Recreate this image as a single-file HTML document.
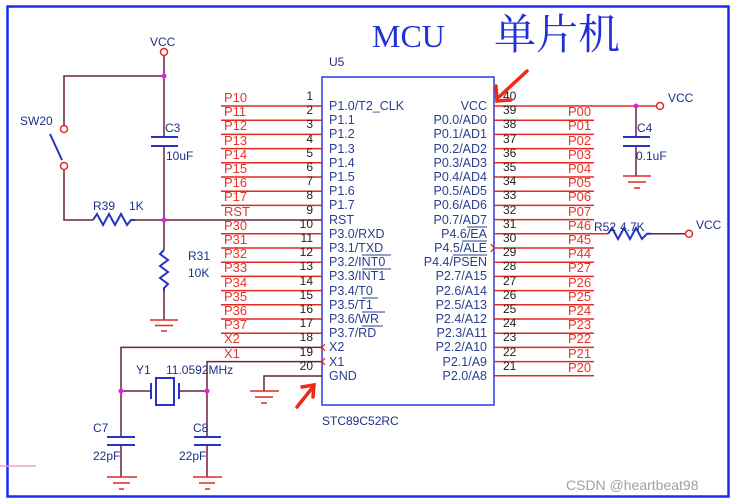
<!DOCTYPE html>
<html><head><meta charset="utf-8"><style>
html,body{margin:0;padding:0;background:#fff;width:733px;height:503px;overflow:hidden}
svg{display:block}
text{font-family:"Liberation Sans",sans-serif}
.p{font-size:12.5px;fill:#2a3f8f}
.n{font-size:12px;fill:#222}
.r{font-size:13px;fill:#e8342a}
.c{font-size:12px;fill:#1e2f8a}
</style></head><body>
<svg width="733" height="503" viewBox="0 0 733 503" xmlns="http://www.w3.org/2000/svg">
<rect x="7.5" y="6.5" width="721" height="490" fill="none" stroke="#1a2cf0" stroke-width="2.5"/>
<line x1="0" y1="466" x2="36" y2="466" stroke="#f2a0b8" stroke-width="1.5"/>
<text x="372" y="47" style="font-family:'Liberation Serif',serif;font-size:32px;fill:#2030d8">MCU</text>
<text x="494" y="49" style="font-family:'Liberation Serif','Noto Serif CJK SC',serif;font-size:42px;fill:#2030d8">单片机</text>

<rect x="322" y="77" width="172" height="328" fill="none" stroke="#2a3ce0" stroke-width="1.5"/>
<text x="329" y="66" class="c">U5</text>
<text x="322" y="425" class="c">STC89C52RC</text>

<g stroke="#e02a22" stroke-width="1.5">
<line x1="221" y1="106" x2="322" y2="106"/><line x1="221" y1="120.2" x2="322" y2="120.2"/>
<line x1="221" y1="134.4" x2="322" y2="134.4"/><line x1="221" y1="148.6" x2="322" y2="148.6"/>
<line x1="221" y1="162.8" x2="322" y2="162.8"/><line x1="221" y1="177" x2="322" y2="177"/>
<line x1="221" y1="191.2" x2="322" y2="191.2"/><line x1="221" y1="205.4" x2="322" y2="205.4"/>
<line x1="221" y1="233.8" x2="322" y2="233.8"/><line x1="221" y1="248" x2="322" y2="248"/>
<line x1="221" y1="262.2" x2="322" y2="262.2"/><line x1="221" y1="276.4" x2="322" y2="276.4"/>
<line x1="221" y1="290.6" x2="322" y2="290.6"/><line x1="221" y1="304.8" x2="322" y2="304.8"/>
<line x1="221" y1="319" x2="322" y2="319"/><line x1="221" y1="333.2" x2="322" y2="333.2"/>
<line x1="494" y1="120.2" x2="594" y2="120.2"/><line x1="494" y1="134.4" x2="594" y2="134.4"/>
<line x1="494" y1="148.6" x2="594" y2="148.6"/><line x1="494" y1="162.8" x2="594" y2="162.8"/>
<line x1="494" y1="177" x2="594" y2="177"/><line x1="494" y1="191.2" x2="594" y2="191.2"/>
<line x1="494" y1="205.4" x2="594" y2="205.4"/><line x1="494" y1="219.6" x2="594" y2="219.6"/>
<line x1="494" y1="248" x2="594" y2="248"/><line x1="494" y1="262.2" x2="594" y2="262.2"/>
<line x1="494" y1="276.4" x2="594" y2="276.4"/><line x1="494" y1="290.6" x2="594" y2="290.6"/>
<line x1="494" y1="304.8" x2="594" y2="304.8"/><line x1="494" y1="319" x2="594" y2="319"/>
<line x1="494" y1="333.2" x2="594" y2="333.2"/><line x1="494" y1="347.4" x2="594" y2="347.4"/>
<line x1="494" y1="361.6" x2="594" y2="361.6"/><line x1="494" y1="375.8" x2="594" y2="375.8"/>
<line x1="494" y1="106" x2="660" y2="106"/>
<line x1="494" y1="233.8" x2="608" y2="233.8"/>
</g>

<g stroke="#6e2140" stroke-width="1.5" fill="none">
<line x1="164" y1="55" x2="164" y2="137"/>
<line x1="164" y1="146" x2="164" y2="250"/>
<polyline points="164,76 64,76 64,126"/>
<polyline points="64,169 64,220 93,220"/>
<line x1="135" y1="220" x2="322" y2="220"/>
<line x1="164" y1="291" x2="164" y2="320"/>
<polyline points="322,347.4 121,347.4 121,437"/>
<line x1="121" y1="445" x2="121" y2="477"/>
<polyline points="322,361.6 207,361.6 207,437"/>
<line x1="207" y1="445" x2="207" y2="477"/>
<line x1="121" y1="391" x2="150" y2="391"/>
<line x1="180" y1="391" x2="207" y2="391"/>
<polyline points="322,376 264,376 264,391"/>
<line x1="636" y1="106" x2="636" y2="137"/>
<line x1="636" y1="146" x2="636" y2="176"/>
<line x1="651" y1="233.8" x2="686" y2="233.8"/>
</g>

<g stroke="#e02a22" stroke-width="1.5">
<line x1="150" y1="320" x2="178" y2="320"/><line x1="155" y1="325.5" x2="173" y2="325.5"/><line x1="161" y1="331" x2="167" y2="331"/>
<line x1="107" y1="477" x2="137" y2="477"/><line x1="113" y1="483" x2="130" y2="483"/><line x1="119" y1="489" x2="124" y2="489"/>
<line x1="193" y1="477" x2="222" y2="477"/><line x1="199" y1="483" x2="215" y2="483"/><line x1="205" y1="489" x2="210" y2="489"/>
<line x1="250" y1="391" x2="279" y2="391"/><line x1="255" y1="397" x2="273" y2="397"/><line x1="261" y1="403" x2="267" y2="403"/>
<line x1="623" y1="176" x2="651" y2="176"/><line x1="628" y1="182" x2="646" y2="182"/><line x1="634" y1="188" x2="640" y2="188"/>
</g>

<g stroke="#2535c0" stroke-width="2" fill="none">
<line x1="151" y1="137" x2="178" y2="137"/><line x1="151" y1="146" x2="178" y2="146"/>
<line x1="623" y1="137" x2="650" y2="137"/><line x1="623" y1="146" x2="650" y2="146"/>
<line x1="107" y1="437" x2="135" y2="437"/><line x1="107" y1="445" x2="135" y2="445"/>
<line x1="194" y1="437" x2="221" y2="437"/><line x1="194" y1="445" x2="221" y2="445"/>
<line x1="151" y1="383" x2="151" y2="399"/><line x1="179" y1="383" x2="179" y2="399"/>
<rect x="156" y="378" width="18" height="27"/>
<polyline points="93,220 97,214 103,225 109,214 115,225 121,214 127,225 131,220 135,220"/>
<polyline points="608,233.8 612,228 618,239 624,228 630,239 636,228 642,239 647,233.8 651,233.8"/>
<polyline points="164,250 160,254 168,260 160,266 168,272 160,278 168,284 164,288 164,291"/>
<line x1="50" y1="134" x2="62" y2="160"/>
</g>
<g stroke="#e02a22" stroke-width="1.5" fill="#fff">
<circle cx="164" cy="52" r="3.5"/><circle cx="64" cy="129" r="3.5"/><circle cx="64" cy="166" r="3.5"/>
<circle cx="660" cy="106" r="3.5"/><circle cx="689" cy="233.8" r="3.5"/>
</g>
<g fill="#e020e0">
<circle cx="164" cy="76" r="2.5"/><circle cx="164" cy="220" r="2.5"/><circle cx="636" cy="106" r="2.5"/>
<circle cx="121" cy="391" r="2.5"/><circle cx="207" cy="391" r="2.5"/>
</g>
<g stroke="#e02a22" stroke-width="1.2" fill="none">
<polyline points="325,344 322,347.4 325,351"/><polyline points="325,358 322,361.6 325,365"/><polyline points="491,244 494,248 491,252"/>
</g>

<text x="150" y="46" class="c">VCC</text>
<text x="20" y="125" class="c">SW20</text>
<text x="165" y="132" class="c">C3</text>
<text x="166" y="160" class="c">10uF</text>
<text x="93" y="210" class="c">R39</text><text x="129" y="210" class="c">1K</text>
<text x="188" y="260" class="c">R31</text><text x="188" y="277" class="c">10K</text>
<text x="136" y="374" class="c">Y1</text><text x="166" y="374" class="c">11.0592MHz</text>
<text x="93" y="432" class="c">C7</text><text x="93" y="460" class="c">22pF</text>
<text x="193" y="432" class="c">C8</text><text x="179" y="460" class="c">22pF</text>
<text x="637" y="132" class="c">C4</text><text x="636" y="160" class="c">0.1uF</text>
<text x="668" y="102" class="c">VCC</text>
<text x="594" y="231" class="c">R52</text><text x="620" y="231" class="c">4.7K</text>
<text x="696" y="229" class="c">VCC</text>

<g class="r">
<text x="224" y="102">P10</text><text x="224" y="116">P11</text><text x="224" y="130">P12</text><text x="224" y="145">P13</text>
<text x="224" y="159">P14</text><text x="224" y="173">P15</text><text x="224" y="187">P16</text><text x="224" y="201">P17</text>
<text x="224" y="216">RST</text><text x="224" y="230">P30</text><text x="224" y="244">P31</text><text x="224" y="258">P32</text>
<text x="224" y="272">P33</text><text x="224" y="287">P34</text><text x="224" y="301">P35</text><text x="224" y="315">P36</text>
<text x="224" y="329">P37</text><text x="224" y="343">X2</text><text x="224" y="358">X1</text>
</g>
<g class="r">
<text x="568" y="116">P00</text><text x="568" y="130">P01</text><text x="568" y="145">P02</text><text x="568" y="159">P03</text>
<text x="568" y="173">P04</text><text x="568" y="187">P05</text><text x="568" y="201">P06</text><text x="568" y="216">P07</text>
<text x="568" y="230">P46</text><text x="568" y="244">P45</text><text x="568" y="258">P44</text><text x="568" y="272">P27</text>
<text x="568" y="287">P26</text><text x="568" y="301">P25</text><text x="568" y="315">P24</text><text x="568" y="329">P23</text>
<text x="568" y="343">P22</text><text x="568" y="358">P21</text><text x="568" y="372">P20</text>
</g>
<g class="n" text-anchor="end">
<text x="313" y="100">1</text><text x="313" y="114">2</text><text x="313" y="128">3</text><text x="313" y="143">4</text>
<text x="313" y="157">5</text><text x="313" y="171">6</text><text x="313" y="185">7</text><text x="313" y="199">8</text>
<text x="313" y="214">9</text><text x="313" y="228">10</text><text x="313" y="242">11</text><text x="313" y="256">12</text>
<text x="313" y="270">13</text><text x="313" y="285">14</text><text x="313" y="299">15</text><text x="313" y="313">16</text>
<text x="313" y="327">17</text><text x="313" y="341">18</text><text x="313" y="356">19</text><text x="313" y="370">20</text>
</g>
<g class="n">
<text x="503" y="100">40</text><text x="503" y="114">39</text><text x="503" y="128">38</text><text x="503" y="143">37</text>
<text x="503" y="157">36</text><text x="503" y="171">35</text><text x="503" y="185">34</text><text x="503" y="199">33</text>
<text x="503" y="214">32</text><text x="503" y="228">31</text><text x="503" y="242">30</text><text x="503" y="256">29</text>
<text x="503" y="270">28</text><text x="503" y="285">27</text><text x="503" y="299">26</text><text x="503" y="313">25</text>
<text x="503" y="327">24</text><text x="503" y="341">23</text><text x="503" y="356">22</text><text x="503" y="370">21</text>
</g>
<g class="p">
<text x="329" y="110">P1.0/T2_CLK</text><text x="329" y="124">P1.1</text><text x="329" y="138">P1.2</text><text x="329" y="153">P1.3</text>
<text x="329" y="167">P1.4</text><text x="329" y="181">P1.5</text><text x="329" y="195">P1.6</text><text x="329" y="209">P1.7</text>
<text x="329" y="224">RST</text><text x="329" y="238">P3.0/RXD</text><text x="329" y="252">P3.1/TXD</text><text x="329" y="266">P3.2/INT0</text>
<text x="329" y="280">P3.3/INT1</text><text x="329" y="295">P3.4/T0</text><text x="329" y="309">P3.5/T1</text><text x="329" y="323">P3.6/WR</text>
<text x="329" y="337">P3.7/RD</text><text x="329" y="351">X2</text><text x="329" y="366">X1</text><text x="329" y="380">GND</text>
</g>
<g class="p" text-anchor="end">
<text x="487" y="110">VCC</text><text x="487" y="124">P0.0/AD0</text><text x="487" y="138">P0.1/AD1</text><text x="487" y="153">P0.2/AD2</text>
<text x="487" y="167">P0.3/AD3</text><text x="487" y="181">P0.4/AD4</text><text x="487" y="195">P0.5/AD5</text><text x="487" y="209">P0.6/AD6</text>
<text x="487" y="224">P0.7/AD7</text><text x="487" y="238">P4.6/EA</text><text x="487" y="252">P4.5/ALE</text><text x="487" y="266">P4.4/PSEN</text>
<text x="487" y="280">P2.7/A15</text><text x="487" y="295">P2.6/A14</text><text x="487" y="309">P2.5/A13</text><text x="487" y="323">P2.4/A12</text>
<text x="487" y="337">P2.3/A11</text><text x="487" y="351">P2.2/A10</text><text x="487" y="366">P2.1/A9</text><text x="487" y="380">P2.0/A8</text>
</g>
<g stroke="#2a3f8f" stroke-width="1">
<line x1="467" y1="227" x2="487" y2="227"/><line x1="462" y1="241" x2="487" y2="241"/><line x1="453" y1="255" x2="487" y2="255"/>
<line x1="362" y1="255" x2="391" y2="255"/><line x1="362" y1="269" x2="391" y2="269"/>
<line x1="362" y1="298" x2="378" y2="298"/><line x1="362" y1="312" x2="385" y2="312"/><line x1="362" y1="326" x2="383" y2="326"/>
</g>
<g stroke="#ee2a1a" stroke-width="3.5" fill="none" stroke-linecap="round">
<line x1="527" y1="71" x2="499" y2="97"/>
<polyline points="496,86 497,101 511,100"/>
<line x1="297" y1="407" x2="313" y2="387"/>
<polyline points="302,387 314,385 313,397"/>
</g>
<text x="566" y="490" style="font-size:14px;fill:#a0a0a0">CSDN @heartbeat98</text>
</svg>
</body></html>
